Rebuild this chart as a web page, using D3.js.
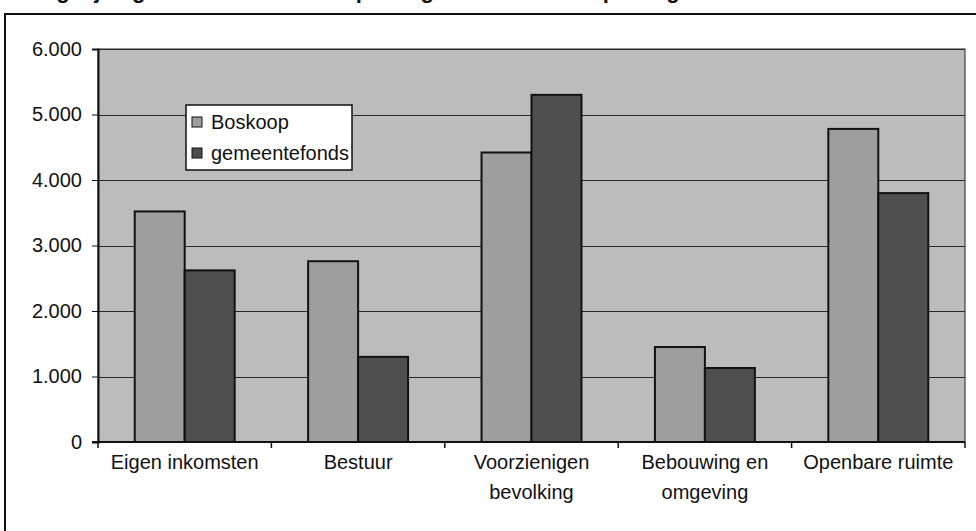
<!DOCTYPE html>
<html>
<head>
<meta charset="utf-8">
<script src="https://cdn.jsdelivr.net/npm/d3@7"></script>
<style>
body { margin: 0; background: #fff; }
text { font-family: "Liberation Sans", Arial, sans-serif; fill: #111; }
</style>
</head>
<body>
<div id="chart"></div>
<script>
// waarden per taakgebied
let categories = ["Eigen inkomsten", "Bestuur", "Voorzienigen bevolking", "Bebouwing en omgeving", "Openbare ruimte"];
let labelLines = [["Eigen inkomsten"], ["Bestuur"], ["Voorzienigen", "bevolking"], ["Bebouwing en", "omgeving"], ["Openbare ruimte"]];
let series = ["Boskoop", "gemeentefonds"];
let boskoop = [3520, 2760, 4420, 1450, 4780];
let gemeentefonds = [2620, 1300, 5300, 1130, 3800];
let yTicks = [0, 1000, 2000, 3000, 4000, 5000, 6000];

let width = 976,
height = 531;

let margin = {top: 49, right: 11, bottom: 89, left: 98};

let svg = d3.select("#chart")
.append("svg")
.attr("width", width)
.attr("height", height);

// buitenkader (loopt buiten beeld door)
svg.append("path")
.attr("d", "M5," + (height + 5) + "V14H" + (width + 5))
.attr("fill", "none")
.attr("stroke", "#111")
.attr("stroke-width", 2);

// titel, grotendeels afgesneden aan de bovenkant
svg.append("text")
.attr("x", 22)
.attr("y", -2)
.style("font-size", "22px")
.style("font-weight", "bold")
.text("Vergelijking uitkomsten Boskoop met gemeentefonds op taakgebiedniveau");

let x0 = d3.scaleBand()
.domain(categories)
.range([margin.left, width - margin.right])
.paddingInner(0)
.paddingOuter(0);

let x1 = d3.scaleBand()
.domain(series)
.range([0, x0.bandwidth()])
.paddingInner(0)
.paddingOuter(0.735);

let y = d3.scaleLinear()
.domain([0, 6000])
.range([height - margin.bottom, margin.top]);

let colors = {Boskoop: "#9e9e9e", gemeentefonds: "#4f4f4f"};

let plot = svg.append("g");

plot.append("rect")
.attr("x", margin.left)
.attr("y", margin.top)
.attr("width", width - margin.right - margin.left)
.attr("height", y(0) - margin.top)
.attr("fill", "#bcbcbc")
.attr("stroke", "#222")
.attr("stroke-width", 1);

// rasterlijnen
plot.selectAll(".grid")
.data(yTicks.slice(1))
.enter().append("line")
.classed("grid", true)
.attr("x1", margin.left)
.attr("x2", width - margin.right)
.attr("y1", d => Math.round(y(d)) + 0.5)
.attr("y2", d => Math.round(y(d)) + 0.5)
.attr("stroke", "#2a2a2a")
.attr("stroke-width", 1);

let rows = categories.map((c, i) => ({cat: c, values: [boskoop[i], gemeentefonds[i]]}));

let groups = plot.selectAll(".cat")
.data(rows)
.enter().append("g")
.attr("transform", d => "translate(" + x0(d.cat) + ",0)");

groups.selectAll("rect")
.data(d => series.map((s, j) => ({key: s, value: d.values[j]})))
.enter().append("rect")
.attr("x", d => x1(d.key))
.attr("y", d => y(d.value))
.attr("width", x1.bandwidth())
.attr("height", d => y(0) - y(d.value))
.attr("fill", d => colors[d.key])
.attr("stroke", "#111")
.attr("stroke-width", 2);

// y-as
let yAxis = svg.append("g")
.attr("transform", "translate(" + margin.left + ",0)")
.call(d3.axisLeft(y)
  .tickValues(yTicks)
  .tickSize(6)
  .tickPadding(10)
  .tickFormat(d => d3.format(",")(d).replace(/,/g, ".")));

yAxis.select(".domain").attr("stroke", "#111").attr("stroke-width", 2);
yAxis.selectAll(".tick line").attr("stroke", "#111");
yAxis.selectAll(".tick text")
.style("font-size", "20px")
.attr("fill", "#111");

// x-as
let xAxis = svg.append("g")
.attr("transform", "translate(0," + y(0) + ")");

xAxis.append("line")
.attr("x1", margin.left - 6)
.attr("x2", width - margin.right)
.attr("stroke", "#111")
.attr("stroke-width", 2);

xAxis.selectAll(".xtick")
.data(categories.map(c => x0(c)).concat([width - margin.right]))
.enter().append("line")
.attr("x1", d => d)
.attr("x2", d => d)
.attr("y1", 0)
.attr("y2", 6)
.attr("stroke", "#111")
.attr("stroke-width", 1.5);

xAxis.selectAll(".xlabel")
.data(categories)
.enter().append("text")
.attr("x", d => x0(d) + x0.bandwidth() / 2)
.attr("text-anchor", "middle")
.style("font-size", "20px")
.selectAll("tspan")
.data((d, i) => labelLines[i])
.enter().append("tspan")
.attr("x", function() { return d3.select(this.parentNode).attr("x"); })
.attr("y", (d, i) => 27 + i * 30)
.text(d => d);

// legenda
let legend = svg.append("g").attr("transform", "translate(186,105)");

legend.append("rect")
.attr("width", 166)
.attr("height", 65)
.attr("fill", "#fff")
.attr("stroke", "#111")
.attr("stroke-width", 1.5);

let item = legend.selectAll(".item")
.data(series)
.enter().append("g")
.attr("transform", (d, i) => "translate(6," + (17 + i * 31) + ")");

item.append("rect")
.attr("y", -5)
.attr("width", 10)
.attr("height", 10)
.attr("fill", d => colors[d])
.attr("stroke", "#111");

item.append("text")
.attr("x", 19)
.attr("dy", "0.35em")
.style("font-size", "20px")
.text(d => d);
</script>
</body>
</html>
